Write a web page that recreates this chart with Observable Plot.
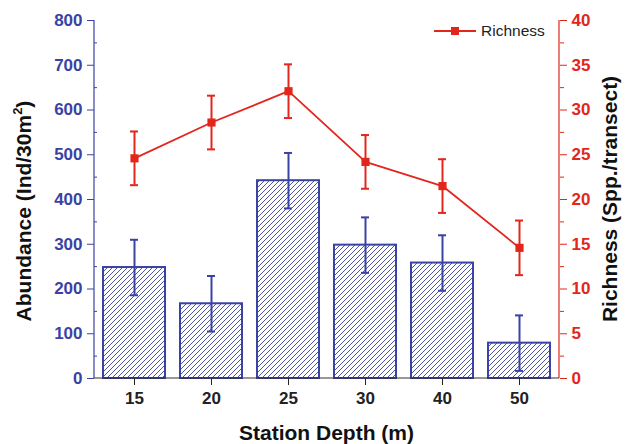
<!DOCTYPE html>
<html>
<head>
<meta charset="utf-8">
<script src="https://cdn.jsdelivr.net/npm/d3@7"></script>
<script src="https://cdn.jsdelivr.net/npm/@observablehq/plot@0.6"></script>
<style>
  html, body { margin: 0; padding: 0; background: #fff; }
  #chart { width: 625px; height: 444px; }
  svg { font-family: "Liberation Sans", Arial, sans-serif; }
</style>
</head>
<body>
<div id="chart"></div>
<script>
const depths = ["15", "20", "25", "30", "40", "50"];
const abundance = [248, 167, 442, 298, 258, 79];
const abundanceErr = [62, 62, 62, 62, 62, 62];
const richness = [24.6, 28.6, 32.1, 24.2, 21.5, 14.6];
const richnessErr = [3.0, 3.0, 3.0, 3.0, 3.0, 3.05];
const leftTicks = [0, 100, 200, 300, 400, 500, 600, 700, 800];
const rightTicks = [0, 5, 10, 15, 20, 25, 30, 35, 40];

const BLUE = "#3a42a4";
const RED = "#e2261c";
const RATIO = 20; // 40 richness units span the 800 abundance units

const rows = depths.map((d, i) => ({
  depth: d,
  ab: abundance[i], abLo: abundance[i] - abundanceErr[i], abHi: abundance[i] + abundanceErr[i],
  ri: richness[i] * RATIO,
  riLo: (richness[i] - richnessErr[i]) * RATIO, riHi: (richness[i] + richnessErr[i]) * RATIO
}));

const defs = () => {
  const g = d3.create("svg:defs");
  const p = g.append("pattern").attr("id", "hatch").attr("patternUnits", "userSpaceOnUse")
    .attr("width", 5).attr("height", 5);
  p.append("path").attr("d", "M-1,1 l2,-2 M0,5 l5,-5 M4,6 l2,-2")
    .attr("stroke", BLUE).attr("stroke-width", 0.9).attr("fill", "none");
  return g.node();
};

const decorations = (index, scales, values, dims) => {
  const {width, height, marginLeft, marginRight, marginTop, marginBottom} = dims;
  const x0 = marginLeft, x1 = width - marginRight, y0 = marginTop, y1 = height - marginBottom;
  const g = d3.create("svg:g");
  // axis lines
  g.append("line").attr("x1", x0).attr("x2", x0).attr("y1", y0).attr("y2", y1).attr("stroke", BLUE).attr("stroke-width", 1.2);
  g.append("line").attr("x1", x1).attr("x2", x1).attr("y1", y0).attr("y2", y1).attr("stroke", RED).attr("stroke-width", 1.2);
  g.append("line").attr("x1", x0).attr("x2", x1).attr("y1", y1).attr("y2", y1).attr("stroke", "#333").attr("stroke-width", 1.2);
  // axis titles
  g.append("text").attr("x", (x0 + x1) / 2).attr("y", height - 4)
    .attr("text-anchor", "middle").attr("font-size", 21).attr("font-weight", "bold").attr("fill", "#111")
    .text("Station Depth (m)");
  const lt = g.append("text").attr("transform", `translate(31,${(y0 + y1) / 2 + 12}) rotate(-90)`)
    .attr("text-anchor", "middle").attr("font-size", 21).attr("font-weight", "bold").attr("fill", "#111");
  lt.append("tspan").text("Abundance (Ind/30m");
  lt.append("tspan").attr("font-size", 13).attr("dy", -9).text("2");
  lt.append("tspan").attr("dy", 9).text(")");
  g.append("text").attr("transform", `translate(${width - 8},${(y0 + y1) / 2}) rotate(-90)`)
    .attr("text-anchor", "middle").attr("font-size", 21).attr("font-weight", "bold").attr("fill", "#111")
    .text("Richness (Spp./transect)");
  // legend
  const ly = 31, lx = 434;
  g.append("line").attr("x1", lx).attr("x2", lx + 42).attr("y1", ly).attr("y2", ly).attr("stroke", RED).attr("stroke-width", 1.8);
  g.append("rect").attr("x", lx + 17).attr("y", ly - 4).attr("width", 8).attr("height", 8).attr("fill", RED);
  g.append("text").attr("x", lx + 47).attr("y", ly + 5).attr("text-anchor", "start")
    .attr("font-size", 15.5).attr("fill", "#222").text("Richness");
  return g.node();
};

const plot = Plot.plot({
  width: 625,
  height: 444,
  marginLeft: 94,
  marginRight: 66,
  marginTop: 20,
  marginBottom: 66,
  style: {fontFamily: "Liberation Sans, Arial, sans-serif", background: "white"},
  x: {domain: depths, paddingInner: 0.2, paddingOuter: 0.1, label: null},
  y: {domain: [0, 800], label: null},
  marks: [
    defs,
    Plot.barY(rows, {x: "depth", y: "ab", fill: "url(#hatch)", stroke: BLUE, strokeWidth: 2}),
    Plot.ruleX(rows, {x: "depth", y1: "abLo", y2: "abHi", stroke: BLUE, strokeWidth: 2}),
    Plot.tickY(rows, {x: "depth", y: "abHi", stroke: BLUE, strokeWidth: 2, insetLeft: 27, insetRight: 27}),
    Plot.tickY(rows, {x: "depth", y: "abLo", stroke: BLUE, strokeWidth: 2, insetLeft: 27, insetRight: 27}),
    Plot.line(rows, {x: "depth", y: "ri", stroke: RED, strokeWidth: 1.8}),
    Plot.ruleX(rows, {x: "depth", y1: "riLo", y2: "riHi", stroke: RED, strokeWidth: 2}),
    Plot.tickY(rows, {x: "depth", y: "riHi", stroke: RED, strokeWidth: 2, insetLeft: 27, insetRight: 27}),
    Plot.tickY(rows, {x: "depth", y: "riLo", stroke: RED, strokeWidth: 2, insetLeft: 27, insetRight: 27}),
    Plot.dot(rows, {x: "depth", y: "ri", symbol: "square", r: 4.6, fill: RED, stroke: "none"}),
    Plot.axisY({anchor: "left", ticks: leftTicks, tickSize: 7, tickPadding: 5, color: BLUE,
      fontSize: 17, fontWeight: "bold", label: null}),
    Plot.axisY({anchor: "left", ticks: d3.range(50, 800, 100), tickSize: -3, tickFormat: () => "", color: BLUE, label: null}),
    Plot.axisY({anchor: "right", ticks: rightTicks.map(v => v * RATIO), tickFormat: (d) => d / RATIO,
      tickSize: 7, tickPadding: 5, color: RED, fontSize: 17, fontWeight: "bold", label: null}),
    Plot.axisY({anchor: "right", ticks: d3.range(50, 800, 100), tickSize: 4, tickFormat: () => "", color: RED, label: null}),
    Plot.axisX({tickSize: 7, tickPadding: 6, color: "#222", fontSize: 17, fontWeight: "bold", label: null}),
    decorations
  ]
});
document.getElementById("chart").append(plot);
</script>
</body>
</html>
